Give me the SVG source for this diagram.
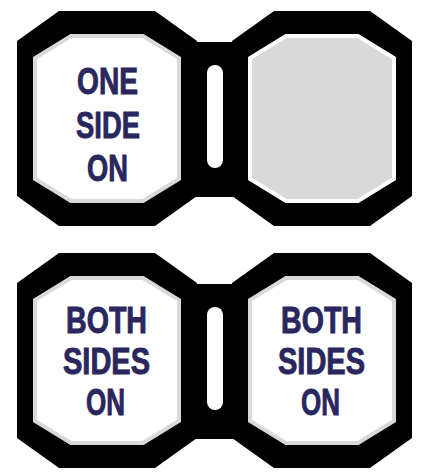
<svg xmlns="http://www.w3.org/2000/svg" width="430" height="473" viewBox="0 0 430 473">
<style>
.frame{fill:#000}
.face-on{fill:#fff;stroke:#d9d9d9;stroke-width:4}
.face-off{fill:#d9d9d9;stroke:#fff;stroke-width:4}
.slot{fill:#fff}
.lbl{font-family:"Liberation Sans",Arial,sans-serif;font-weight:bold;font-size:36px;fill:#29275e;stroke:#29275e;stroke-width:0.9;text-anchor:middle}
</style>
<defs>
<polygon id="outer" points="59,11 155,11 197,41 197,196 155,226 59,226 17,196 17,41"/>
<polygon id="inner" points="71,36 143,36 179,58 179,179 143,201 71,201 35,179 35,58"/>
</defs>
<g id="connectors">
<rect class="frame" x="193" y="42" width="44" height="155"/>
<rect class="slot" x="207" y="65" width="16" height="103" rx="8"/>
<rect class="frame" x="193" y="284" width="44" height="155"/>
<rect class="slot" x="207" y="307" width="16" height="103" rx="8"/>
</g>
<g id="top-left">
<use href="#outer" class="frame"/>
<use href="#inner" class="face-on"/>
<text class="lbl" x="107.5" y="94" textLength="61" lengthAdjust="spacingAndGlyphs">ONE</text>
<text class="lbl" x="108" y="138" textLength="64" lengthAdjust="spacingAndGlyphs">SIDE</text>
<text class="lbl" x="107.5" y="181" textLength="41" lengthAdjust="spacingAndGlyphs">ON</text>
</g>
<g id="top-right" transform="translate(215,0)">
<use href="#outer" class="frame"/>
<use href="#inner" class="face-off"/>
</g>
<g id="bottom-left" transform="translate(0,242)">
<use href="#outer" class="frame"/>
<use href="#inner" class="face-on"/>
<text class="lbl" x="106.5" y="91" textLength="81" lengthAdjust="spacingAndGlyphs">BOTH</text>
<text class="lbl" x="106.5" y="132" textLength="87" lengthAdjust="spacingAndGlyphs">SIDES</text>
<text class="lbl" x="105.5" y="173" textLength="39" lengthAdjust="spacingAndGlyphs">ON</text>
</g>
<g id="bottom-right" transform="translate(215,242)">
<use href="#outer" class="frame"/>
<use href="#inner" class="face-on"/>
<text class="lbl" x="106.5" y="91" textLength="81" lengthAdjust="spacingAndGlyphs">BOTH</text>
<text class="lbl" x="106.5" y="132" textLength="87" lengthAdjust="spacingAndGlyphs">SIDES</text>
<text class="lbl" x="105.5" y="173" textLength="39" lengthAdjust="spacingAndGlyphs">ON</text>
</g>
</svg>
